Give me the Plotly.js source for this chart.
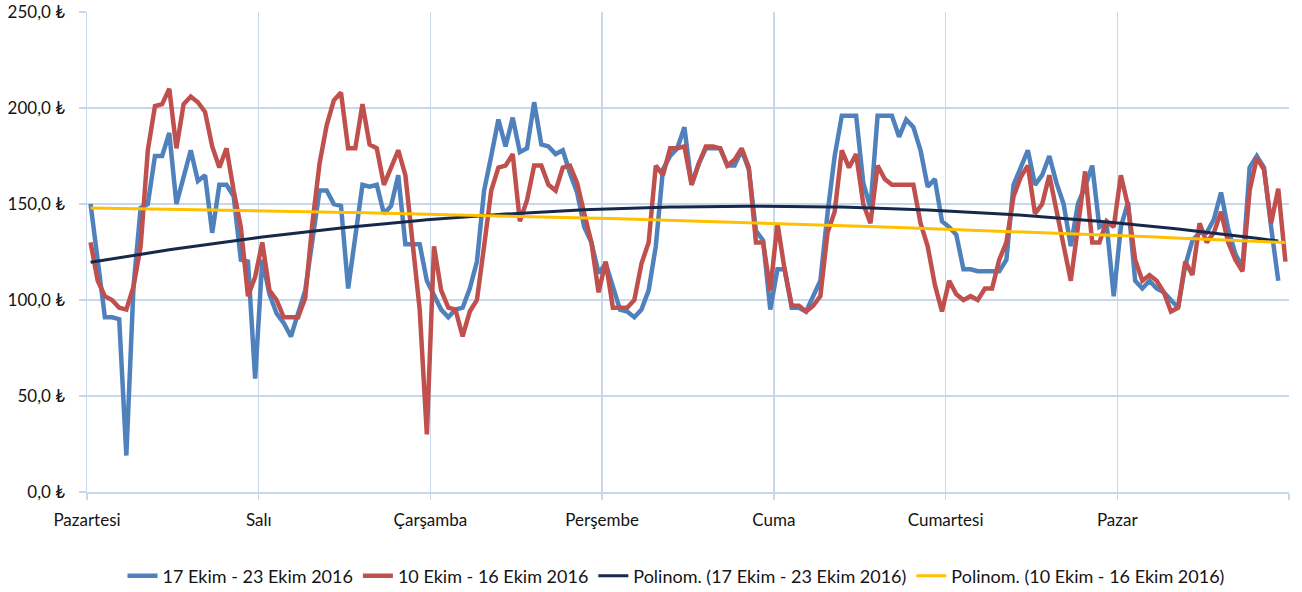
<!DOCTYPE html>
<html>
<head>
<meta charset="utf-8">
<script src="https://cdn.plot.ly/plotly-3.0.1.min.js"></script>
<style>html,body{margin:0;padding:0;background:#fff;}#chart{width:1302px;height:592px;}</style>
</head>
<body>
<div id="chart"></div>
<script>
// Day labels (each day = 24 hourly categories)
const dayLabels = ["Pazartesi", "Salı", "Çarşamba", "Perşembe", "Cuma", "Cumartesi", "Pazar"];
const hoursPerDay = 24;

// 17 Ekim - 23 Ekim 2016 (hourly, last hour missing)
const week17 = [
  150, 118, 91, 91, 90, 19, 107, 148, 150, 175, 175, 187, 150, 164, 178, 162, 165, 135, 160, 160, 154, 121, 120, 59,
  121, 103, 93, 88, 81, 93, 105, 131, 157, 157, 150, 149, 106, 133, 160, 159, 160, 145, 149, 165, 129, 129, 129, 110,
  103, 95, 91, 95, 96, 106, 120, 157, 175, 194, 180, 195, 177, 179, 203, 181, 180, 176, 178, 166, 156, 138, 130, 114,
  119, 107, 95, 94, 91, 95, 105, 128, 168, 175, 179, 190, 160, 171, 179, 179, 179, 170, 170, 178, 168, 136, 131, 95,
  116, 116, 96, 96, 94, 102, 110, 145, 175, 196, 196, 196, 161, 148, 196, 196, 196, 185, 194, 190, 178, 159, 163, 141,
  138, 134, 116, 116, 115, 115, 115, 115, 121, 160, 169, 178, 160, 165, 175, 161, 150, 128, 150, 159, 170, 138, 140, 102,
  138, 151, 110, 106, 110, 106, 104, 100, 96, 118, 131, 135, 135, 142, 156, 137, 124, 117, 169, 175, 169, 138, 110
];

// 10 Ekim - 16 Ekim 2016 (hourly)
const week10 = [
  130, 110, 102, 100, 96, 95, 107, 128, 178, 201, 202, 210, 179, 202, 206, 203, 198, 180, 169, 179, 157, 138, 102, 112,
  130, 105, 100, 91, 91, 91, 101, 140, 171, 191, 204, 208, 179, 179, 202, 181, 179, 160, 169, 178, 165, 128, 95, 30,
  128, 105, 96, 95, 81, 94, 100, 128, 157, 169, 170, 176, 141, 152, 170, 170, 160, 157, 169, 170, 161, 145, 130, 104,
  120, 96, 96, 96, 100, 119, 130, 170, 165, 179, 179, 180, 160, 171, 180, 180, 179, 170, 173, 179, 169, 130, 130, 105,
  140, 116, 97, 97, 94, 97, 102, 135, 146, 178, 169, 176, 150, 140, 170, 163, 160, 160, 160, 160, 140, 128, 108, 94,
  110, 103, 100, 102, 100, 106, 106, 121, 130, 154, 164, 170, 145, 150, 165, 147, 128, 110, 138, 167, 130, 130, 141, 138,
  165, 149, 121, 110, 113, 110, 104, 94, 96, 120, 113, 140, 130, 135, 146, 130, 121, 115, 157, 174, 168, 140, 158, 120
];

const seriesNames = ["17 Ekim - 23 Ekim 2016", "10 Ekim - 16 Ekim 2016",
  "Polinom. (17 Ekim - 23 Ekim 2016)", "Polinom. (10 Ekim - 16 Ekim 2016)"];
const yTickVals = [0, 50, 100, 150, 200, 250];
const yTickText = ["0,0 ₺", "50,0 ₺", "100,0 ₺", "150,0 ₺", "200,0 ₺", "250,0 ₺"];

// polynomial (order 2) least-squares trendline, like Excel's "Polinom."
function polyFit2(ys) {
  const n = ys.length;
  let s = [0,0,0,0,0], t = [0,0,0];
  for (let i = 0; i < n; i++) {
    const x = i + 1, y = ys[i];
    let p = 1;
    for (let k = 0; k < 5; k++) { s[k] += p; if (k < 3) t[k] += p * y; p *= x; }
  }
  const A = [[s[0], s[1], s[2], t[0]], [s[1], s[2], s[3], t[1]], [s[2], s[3], s[4], t[2]]];
  for (let c = 0; c < 3; c++) {
    for (let r = c + 1; r < 3; r++) {
      const f = A[r][c] / A[c][c];
      for (let k = c; k < 4; k++) A[r][k] -= f * A[c][k];
    }
  }
  const b = [0,0,0];
  for (let r = 2; r >= 0; r--) {
    let v = A[r][3];
    for (let k = r + 1; k < 3; k++) v -= A[r][k] * b[k];
    b[r] = v / A[r][r];
  }
  return ys.map((_, i) => { const x = i + 1; return b[0] + b[1] * x + b[2] * x * x; });
}

const idx = n => Array.from({length: n}, (_, i) => i);

const traces = [
  {x: idx(week17.length), y: week17, name: seriesNames[0], type: "scatter", mode: "lines",
   line: {color: "#4F81BD", width: 4.5}},
  {x: idx(week10.length), y: week10, name: seriesNames[1], type: "scatter", mode: "lines",
   line: {color: "#C0504D", width: 4.5}},
  {x: idx(week17.length), y: polyFit2(week17), name: seriesNames[2], type: "scatter", mode: "lines",
   line: {color: "#17294A", width: 3}},
  {x: idx(week10.length), y: polyFit2(week10), name: seriesNames[3], type: "scatter", mode: "lines",
   line: {color: "#FFC000", width: 3}}
];

const nDays = dayLabels.length;
const xTickVals = [], xTickText = [];
for (let d = 0; d <= nDays; d++) {
  xTickVals.push(d * hoursPerDay - 0.5);
  xTickText.push(d < nDays ? dayLabels[d] : "");
}

const txt = "#141414";
const grid = "#C9D7EA";
const layout = {
  width: 1302, height: 592,
  margin: {l: 87, r: 13, t: 12, b: 100},
  paper_bgcolor: "#ffffff", plot_bgcolor: "#ffffff",
  font: {family: "Lato, 'DejaVu Sans', sans-serif", size: 17, color: txt},
  showlegend: true,
  legend: {orientation: "h", xref: "paper", x: 0.49, xanchor: "center",
           yref: "container", y: 0.027, yanchor: "middle",
           font: {size: 18, color: txt}, tracegroupgap: 0},
  xaxis: {
    range: [-0.5, nDays * hoursPerDay - 0.5], tickmode: "array",
    tickvals: xTickVals, ticktext: xTickText,
    showgrid: true, gridcolor: grid, gridwidth: 1.5,
    zeroline: false, showline: true, linecolor: grid, linewidth: 1.5,
    ticks: "outside", ticklen: 6, tickcolor: grid, tickwidth: 1.5,
    ticklabelstandoff: 6,
    tickfont: {size: 17, color: txt}
  },
  yaxis: {
    range: [0, 250], tickmode: "array", tickvals: yTickVals, ticktext: yTickText,
    showgrid: true, gridcolor: grid, gridwidth: 1.5,
    zeroline: false, showline: true, linecolor: grid, linewidth: 1.5,
    ticks: "outside", ticklen: 7, tickcolor: grid, tickwidth: 1.5,
    ticklabelstandoff: 10,
    tickfont: {size: 17, color: txt}
  }
};

Plotly.newPlot("chart", traces, layout, {displayModeBar: false, staticPlot: true});
</script>
</body>
</html>
